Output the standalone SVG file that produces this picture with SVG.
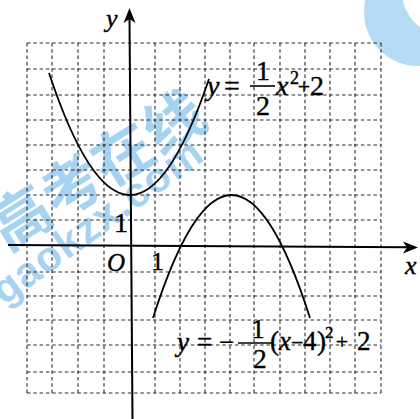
<svg xmlns="http://www.w3.org/2000/svg" width="420" height="419" viewBox="0 0 420 419">
<style>
.grid{stroke:#2a2a2a;stroke-width:1.1;stroke-dasharray:3.5 2.8;fill:none}
.ax{stroke:#000;stroke-width:2;fill:none}
.cv{stroke:#000;stroke-width:1.8;fill:none}
.t{font-family:"Liberation Serif","Times New Roman",serif;fill:#000;stroke:#000;stroke-width:0.4}
.i{font-style:italic}
.wm{fill:#5fb0e8;opacity:0.55}
</style>
<rect width="420" height="419" fill="#fff"/>
<g id="watermark">
<path d="M364,12 a54,54 0 1,0 108,0 a54,54 0 1,0 -108,0 Z M402,-8 a43,43 0 1,0 86,0 a43,43 0 1,0 -86,0 Z" fill="#b5dcf4" fill-rule="evenodd"/>
<text class="wm" x="7" y="252" transform="rotate(-32 7 252)" font-family="'Noto Sans CJK SC',sans-serif" font-weight="bold" font-size="60">高考在线</text>
<text class="wm" x="4" y="306" transform="rotate(-36 4 306)" font-family="'Liberation Sans',Arial,sans-serif" font-weight="bold" font-size="42" letter-spacing="1">gaokzx.com</text>
</g>
<g id="grid" class="grid">
<path d="M27,43V393M52,43V393M78,43V393M104,43V393M155,43V393M180,43V393M205,43V393M230,43V393M254,43V393M280,43V393M305,43V393M330,43V393M355,43V393M381,43V393"/>
<path d="M27,43H381M27,69H381M27,95H381M27,120H381M27,145H381M27,170H381M27,195H381M27,220H381M27,272H381M27,296H381M27,320H381M27,345H381M27,372H381M27,393H381"/>
</g>
<g id="axes">
<path class="ax" d="M8,245L408,247.3"/>
<polygon points="418,247.5 403,241.5 407,247.4 403,253.5" fill="#000"/>
<path class="ax" d="M129.5,18L132.5,419"/>
<polygon points="129.5,8 123.5,23 129.6,19 135.5,23" fill="#000"/>
</g>
<g id="curves">
<path class="cv" d="M49,73Q129,314 209,79"/>
<path class="cv" d="M153,318Q231.5,72 310,318"/>
</g>
<g id="labels">
<text class="t i" x="106" y="27" font-size="26">y</text>
<text class="t i" x="405" y="274" font-size="26">x</text>
<text class="t i" x="107" y="271" font-size="25">O</text>
<text class="t" x="151" y="270" font-size="26">1</text>
<text class="t" x="114" y="232" font-size="28">1</text>
<g id="eq1">
<text class="t i" x="207" y="95" font-size="28">y</text>
<text class="t" x="224" y="95" font-size="28">=</text>
<path d="M250,86H275" stroke="#000" stroke-width="1.6"/>
<text class="t" x="263" y="80" font-size="28" text-anchor="middle">1</text>
<text class="t" x="263" y="115" font-size="28" text-anchor="middle">2</text>
<text class="t i" x="276" y="95" font-size="28">x</text>
<text class="t" x="290" y="84" font-size="18">2</text>
<text class="t" x="304" y="94" font-size="22" text-anchor="middle">+</text>
<text class="t" x="310" y="95" font-size="28">2</text>
</g>
<g id="eq2">
<text class="t i" x="177" y="351" font-size="27">y</text>
<text class="t" x="197" y="351" font-size="27">=</text>
<text class="t" x="219" y="351" font-size="27">−</text>
<path d="M238,343H272" stroke="#000" stroke-width="1.6"/>
<text class="t" x="258" y="338" font-size="27" text-anchor="middle">1</text>
<text class="t" x="260" y="368" font-size="27" text-anchor="middle">2</text>
<text class="t" x="270" y="350" font-size="27">(</text>
<text class="t i" x="279" y="350" font-size="27">x</text>
<text class="t" x="291" y="350" font-size="22">−</text>
<text class="t" x="303" y="350" font-size="27">4</text>
<text class="t" x="317" y="350" font-size="27">)</text>
<text class="t" x="325" y="338" font-size="17">2</text>
<text class="t" x="342" y="349" font-size="22" text-anchor="middle">+</text>
<text class="t" x="357" y="350" font-size="27">2</text>
</g>
</g>
</svg>
